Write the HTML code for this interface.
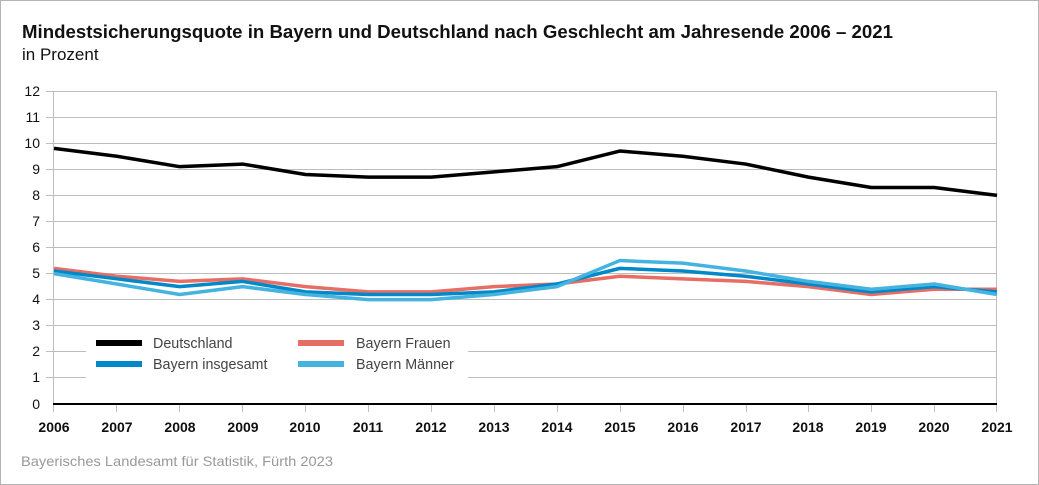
<!DOCTYPE html>
<html><head><meta charset="utf-8"><style>
body{margin:0;background:#fff}
svg{display:block;font-family:"Liberation Sans",Arial,sans-serif}
</style></head><body>
<svg width="1039" height="485" viewBox="0 0 1039 485">
<rect x="0.5" y="0.5" width="1038" height="484" fill="#fff" stroke="#b4b4b4"/>
<text x="22" y="38" font-size="18" fill="#111" font-weight="bold" textLength="871" lengthAdjust="spacingAndGlyphs">Mindestsicherungsquote in Bayern und Deutschland nach Geschlecht am Jahresende 2006 – 2021</text>
<text x="22" y="60" font-size="17" fill="#111">in Prozent</text>
<g stroke="#bdbdbd" stroke-width="1">
<line x1="46" x2="997" y1="91.5" y2="91.5"/><line x1="46" x2="997" y1="117.5" y2="117.5"/>
<line x1="46" x2="997" y1="143.5" y2="143.5"/><line x1="46" x2="997" y1="169.5" y2="169.5"/>
<line x1="46" x2="997" y1="195.5" y2="195.5"/><line x1="46" x2="997" y1="221.5" y2="221.5"/>
<line x1="46" x2="997" y1="247.5" y2="247.5"/><line x1="46" x2="997" y1="273.5" y2="273.5"/>
<line x1="46" x2="997" y1="299.5" y2="299.5"/><line x1="46" x2="997" y1="325.5" y2="325.5"/>
<line x1="46" x2="997" y1="351.5" y2="351.5"/><line x1="46" x2="997" y1="377.5" y2="377.5"/>
<line x1="53.5" x2="53.5" y1="91" y2="412"/><line x1="996.5" x2="996.5" y1="91" y2="412"/>
<line x1="116.5" x2="116.5" y1="404" y2="412"/><line x1="179.5" x2="179.5" y1="404" y2="412"/>
<line x1="242.5" x2="242.5" y1="404" y2="412"/><line x1="305.5" x2="305.5" y1="404" y2="412"/>
<line x1="368.5" x2="368.5" y1="404" y2="412"/><line x1="431.5" x2="431.5" y1="404" y2="412"/>
<line x1="494.5" x2="494.5" y1="404" y2="412"/><line x1="557.5" x2="557.5" y1="404" y2="412"/>
<line x1="620.5" x2="620.5" y1="404" y2="412"/><line x1="683.5" x2="683.5" y1="404" y2="412"/>
<line x1="746.5" x2="746.5" y1="404" y2="412"/><line x1="808.5" x2="808.5" y1="404" y2="412"/>
<line x1="871.5" x2="871.5" y1="404" y2="412"/><line x1="934.5" x2="934.5" y1="404" y2="412"/>
</g>
<g font-size="14" fill="#111" text-anchor="end">
<text x="40" y="96">12</text><text x="40" y="122">11</text><text x="40" y="148">10</text>
<text x="40" y="174">9</text><text x="40" y="200">8</text><text x="40" y="226">7</text>
<text x="40" y="252">6</text><text x="40" y="278">5</text><text x="40" y="304">4</text>
<text x="40" y="330">3</text><text x="40" y="356">2</text><text x="40" y="382">1</text><text x="40" y="409">0</text>
</g>
<g font-size="14" fill="#111" font-weight="bold" text-anchor="middle">
<text x="54" y="432">2006</text><text x="117" y="432">2007</text><text x="180" y="432">2008</text>
<text x="243" y="432">2009</text><text x="305" y="432">2010</text><text x="368" y="432">2011</text>
<text x="431" y="432">2012</text><text x="494" y="432">2013</text><text x="557" y="432">2014</text>
<text x="620" y="432">2015</text><text x="683" y="432">2016</text><text x="746" y="432">2017</text>
<text x="808" y="432">2018</text><text x="871" y="432">2019</text><text x="934" y="432">2020</text><text x="997" y="432">2021</text>
</g>
<rect x="86" y="327" width="382" height="52" fill="#fff"/>
<g transform="translate(54,404) scale(62.867,-26.08)" fill="none" stroke-linejoin="round">
<polyline vector-effect="non-scaling-stroke" stroke="#e76e64" stroke-width="3.5" points="0,5.2 1,4.9 2,4.7 3,4.8 4,4.5 5,4.3 6,4.3 7,4.5 8,4.6 9,4.9 10,4.8 11,4.7 12,4.5 13,4.2 14,4.4 15,4.4"/>
<polyline vector-effect="non-scaling-stroke" stroke="#0088c8" stroke-width="3.5" points="0,5.1 1,4.8 2,4.5 3,4.7 4,4.3 5,4.2 6,4.2 7,4.3 8,4.6 9,5.2 10,5.1 11,4.9 12,4.6 13,4.3 14,4.5 15,4.3"/>
<polyline vector-effect="non-scaling-stroke" stroke="#45b3e0" stroke-width="3.5" points="0,5.0 1,4.6 2,4.2 3,4.5 4,4.2 5,4.0 6,4.0 7,4.2 8,4.5 9,5.5 10,5.4 11,5.1 12,4.7 13,4.4 14,4.6 15,4.2"/>
<polyline vector-effect="non-scaling-stroke" stroke="#000" stroke-width="3.5" points="0,9.8 1,9.5 2,9.1 3,9.2 4,8.8 5,8.7 6,8.7 7,8.9 8,9.1 9,9.7 10,9.5 11,9.2 12,8.7 13,8.3 14,8.3 15,8.0"/>
</g>
<line x1="53" x2="997" y1="404" y2="404" stroke="#000" stroke-width="2"/>
<rect x="96" y="340" width="46" height="6" fill="#000"/>
<rect x="96" y="361" width="46" height="6" fill="#0088c8"/>
<rect x="298" y="340" width="46" height="6" fill="#e76e64"/>
<rect x="298" y="361" width="46" height="6" fill="#45b3e0"/>
<g font-size="14.3" fill="#444">
<text x="153" y="348">Deutschland</text><text x="153" y="369">Bayern insgesamt</text>
<text x="356" y="348">Bayern Frauen</text><text x="356" y="369">Bayern Männer</text>
</g>
<text x="21" y="466" font-size="14" fill="#999" textLength="312" lengthAdjust="spacingAndGlyphs">Bayerisches Landesamt für Statistik, Fürth 2023</text>
</svg>
</body></html>
